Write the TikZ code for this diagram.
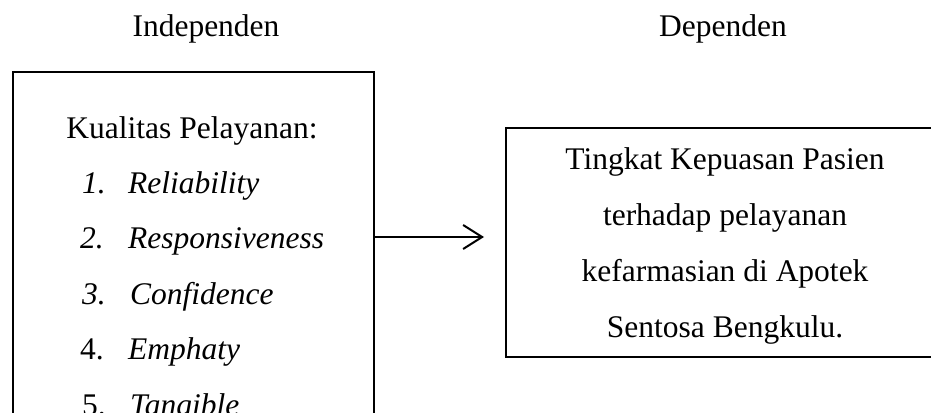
\documentclass[tikz,border=0pt]{standalone}
\usepackage{fontspec}
\setmainfont{Liberation Serif}
\usetikzlibrary{arrows.meta}
\begin{document}
\begin{tikzpicture}[x=1pt,y=-1pt,
  txt/.style={inner sep=0pt,font=\fontsize{31.5}{36}\selectfont},
  boxx/.style={draw,line width=2pt,inner sep=0pt,anchor=north west}]
\useasboundingbox (0,0) rectangle (931,412);
\clip (0,0) rectangle (931,412);
\node[txt,anchor=base] (hi) at (206,37) {Independen};
\node[txt,anchor=base] (hd) at (723,37) {Dependen};
\node[boxx,minimum width=361pt,minimum height=380pt] (L) at (12,71) {};
\node[boxx,minimum width=480pt,minimum height=229pt] (R) at (505,127) {};
\node[txt,anchor=base] (k) at (192,138) {Kualitas Pelayanan:};
\node[txt,anchor=base west] (n1) at (82,193) {\itshape 1.};
\node[txt,anchor=base west] (t1) at (128,193) {\itshape Reliability};
\node[txt,anchor=base west] (n2) at (80,248) {\itshape 2.};
\node[txt,anchor=base west] (t2) at (128,248) {\itshape Responsiveness};
\node[txt,anchor=base west] (n3) at (82,304) {\itshape 3.};
\node[txt,anchor=base west] (t3) at (130,304) {\itshape Confidence};
\node[txt,anchor=base west] (n4) at (80,359) {4.};
\node[txt,anchor=base west] (t4) at (128,359) {\itshape Emphaty};
\node[txt,anchor=base west] (n5) at (82,415) {5.};
\node[txt,anchor=base west] (t5) at (130,415) {\itshape Tangible};
\node[txt,anchor=base] (r1) at (725,169) {Tingkat Kepuasan Pasien};
\node[txt,anchor=base] (r2) at (725,225) {terhadap pelayanan};
\node[txt,anchor=base] (r3) at (725,281) {kefarmasian di Apotek};
\node[txt,anchor=base] (r4) at (725,337) {Sentosa Bengkulu.};
\coordinate (a1) at (373,237);
\coordinate (a2) at (484,237);
\draw[line width=2pt,-{Straight Barb[length=19pt,width=24pt,line width=2pt]}] (a1) -- (a2);
\end{tikzpicture}
\end{document}
